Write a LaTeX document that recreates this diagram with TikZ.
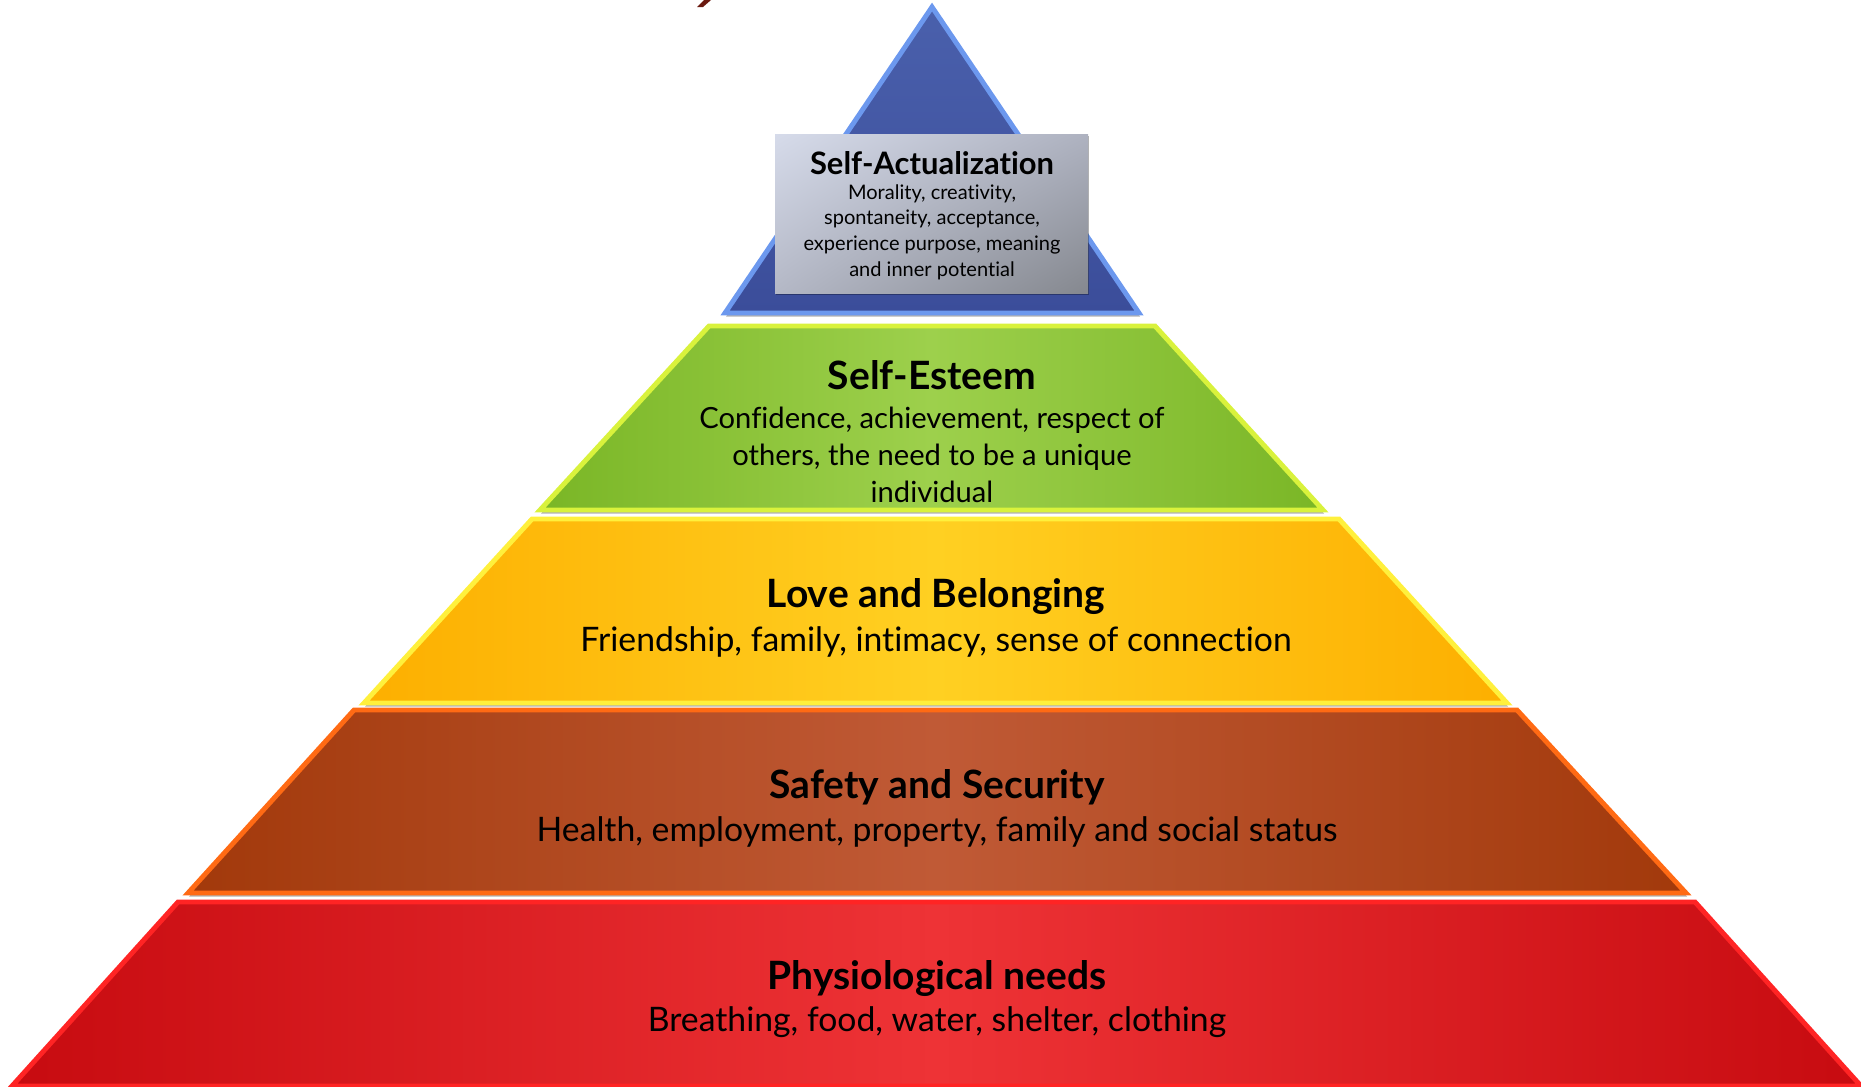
\documentclass[tikz,border=0pt]{standalone}
\usepackage{fontspec}
\setmainfont{Lato}[Ligatures=NoCommon]
\usetikzlibrary{shadows,shadings}
\definecolor{blueF}{HTML}{4A60AC}
\definecolor{blueD}{HTML}{3B4D9A}
\definecolor{blueE}{HTML}{6C98EE}
\definecolor{greenF}{HTML}{7AB626}
\definecolor{greenM}{HTML}{9DD04C}
\definecolor{greenE}{HTML}{D9F23C}
\definecolor{yellowF}{HTML}{FDAF00}
\definecolor{yellowM}{HTML}{FFD022}
\definecolor{yellowE}{HTML}{FFF03C}
\definecolor{brownF}{HTML}{A2390B}
\definecolor{brownM}{HTML}{C05A36}
\definecolor{brownE}{HTML}{FF6A14}
\definecolor{redF}{HTML}{C70B10}
\definecolor{redM}{HTML}{EE3336}
\definecolor{redE}{HTML}{FF2424}
\definecolor{titleRed}{HTML}{6B1A10}
\definecolor{boxA}{HTML}{D6DBEA}
\definecolor{boxB}{HTML}{AEB2C0}
\definecolor{boxC}{HTML}{B4B8C6}
\definecolor{boxD}{HTML}{85888F}
\begin{document}
\begin{tikzpicture}[x=0.1mm, y=-0.1mm,
    level/.style={line width=1.4pt, line join=miter,
        drop shadow={shadow xshift=0.3pt, shadow yshift=-1pt, opacity=.3, fill=black}},
    head/.style={inner sep=0pt, font=\bfseries\fontsize{11.1}{12}\selectfont},
    body/.style={inner sep=0pt, align=center, font=\fontsize{9.6}{10.5}\selectfont},
    smallbody/.style={body, font=\fontsize{8.3}{10.5}\selectfont},
    tophead/.style={inner sep=0pt, font=\bfseries\fontsize{8.8}{9}\selectfont},
    topbody/.style={inner sep=0pt, align=center, font=\fontsize{5.7}{7.3}\selectfont}]
    \useasboundingbox (0,0) rectangle (1861,1086);

    % cut-off title
    \fill[titleRed] (704,0) -- (711,0) -- (703,7) -- (697,7) -- cycle;

    % levels, top to bottom
    \path[level, draw=blueE, top color=blueF, bottom color=blueD]
        (932,7) -- (1139,313) -- (725,313) -- cycle;
    \shade[drop shadow={shadow xshift=0.4pt, shadow yshift=-0.6pt, opacity=.3, fill=black},
        upper left=boxA, upper right=boxB, lower left=boxC, lower right=boxD]
        (775,134) rectangle (1088,293);
    \path[level, draw=greenE, left color=greenF, right color=greenF, middle color=greenM]
        (709,326) -- (1155,326) -- (1323,510) -- (540,510) -- cycle;
    \path[level, draw=yellowE, left color=yellowF, right color=yellowF, middle color=yellowM]
        (532,519) -- (1339,519) -- (1507,703) -- (364,703) -- cycle;
    \path[level, draw=brownE, left color=brownF, right color=brownF, middle color=brownM]
        (354,710) -- (1517,710) -- (1686,893) -- (188,893) -- cycle;
    \path[level, draw=redE, left color=redF, right color=redF, middle color=redM]
        (178,902) -- (1695,902) -- (1861,1086) -- (12,1086) -- cycle;

    % labels
    \node[tophead] (actHead) at (932,163) {Self-Actualization};
    \node[topbody] (actText) at (932,232) {Morality, creativity,\\spontaneity, acceptance,\\experience purpose, meaning\\and inner potential};

    \node[head] (esteemHead) at (932,375) {Self-Esteem};
    \node[smallbody] (esteemText) at (932,455) {Confidence, achievement, respect of\\others, the need to be a unique\\individual};

    \node[head] (loveHead) at (936,597) {Love and Belonging};
    \node[body] (loveText) at (936,642) {Friendship, family, intimacy, sense of connection};

    \node[head] (safeHead) at (937,787) {Safety and Security};
    \node[body] (safeText) at (937,832) {Health, employment, property, family and social status};

    \node[head] (physHead) at (937,978) {Physiological needs};
    \node[body] (physText) at (937,1022) {Breathing, food, water, shelter, clothing};
\end{tikzpicture}
\end{document}
